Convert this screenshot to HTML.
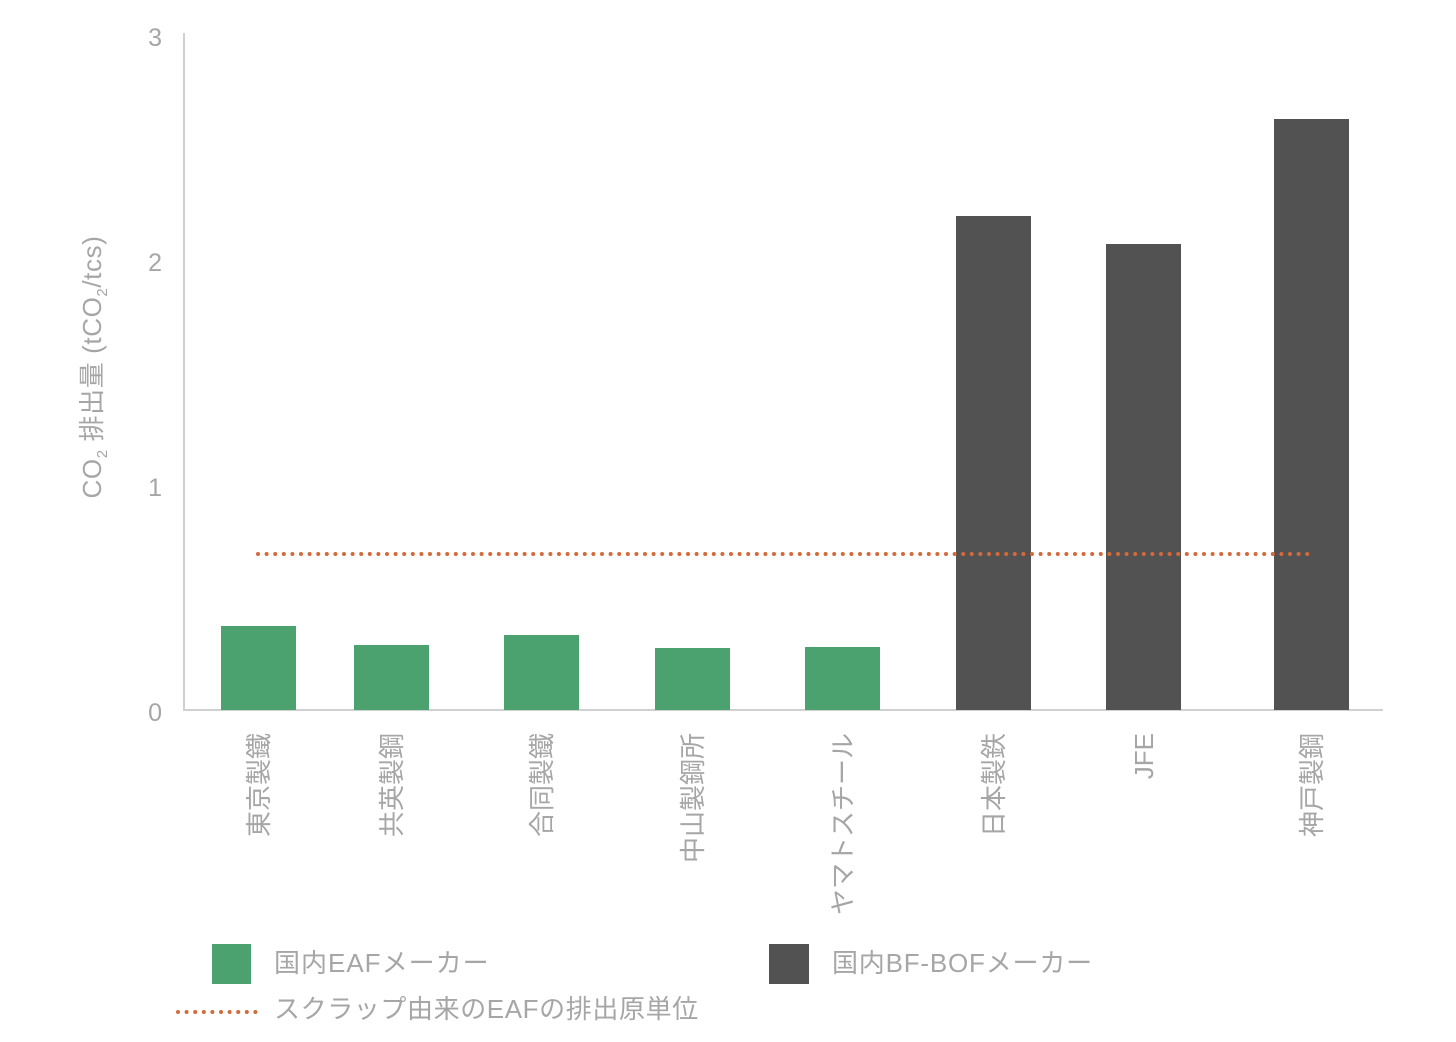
<!DOCTYPE html>
<html><head><meta charset="utf-8"><style>
html,body{margin:0;padding:0;background:#fff;}
svg{display:block;font-family:"Liberation Sans","Noto Sans CJK JP",sans-serif;}
</style></head><body>
<svg width="1456" height="1042" viewBox="0 0 1456 1042" xmlns="http://www.w3.org/2000/svg">
<g fill="#a6a6a6" font-size="25" text-anchor="end">
<text x="162" y="46">3</text>
<text x="162" y="271">2</text>
<text x="162" y="496">1</text>
<text x="162" y="721">0</text>
</g>
<line x1="184" y1="33" x2="184" y2="711" stroke="#d0d0d0" stroke-width="2"/>
<line x1="184" y1="710" x2="1383" y2="710" stroke="#d0d0d0" stroke-width="2"/>
<text transform="translate(101,367) rotate(-90)" fill="#a6a6a6" font-size="26" letter-spacing="0.6" text-anchor="middle">CO<tspan font-size="15" dy="6">2</tspan><tspan dy="-6"> 排出量 (tCO</tspan><tspan font-size="15" dy="6">2</tspan><tspan dy="-6">/tcs)</tspan></text>
<g fill="#4ba26f">
<rect x="221" y="626" width="75" height="84"/>
<rect x="354" y="645" width="75" height="65"/>
<rect x="504" y="635" width="75" height="75"/>
<rect x="655" y="648" width="75" height="62"/>
<rect x="805" y="647" width="75" height="63"/>
</g>
<g fill="#525252">
<rect x="956" y="216" width="75" height="494"/>
<rect x="1106" y="244" width="75" height="466"/>
<rect x="1274" y="119" width="75" height="591"/>
</g>
<line x1="258" y1="554" x2="1312" y2="554" stroke="#d4693a" stroke-width="4" stroke-linecap="round" stroke-dasharray="0 8.6"/>
<g fill="#a6a6a6" font-size="26" text-anchor="end">
<text transform="translate(268,733) rotate(-90)">東京製鐵</text>
<text transform="translate(401,733) rotate(-90)">共英製鋼</text>
<text transform="translate(551,733) rotate(-90)">合同製鐵</text>
<text transform="translate(702,733) rotate(-90)">中山製鋼所</text>
<text transform="translate(852,733) rotate(-90)">ヤマトスチール</text>
<text transform="translate(1003,733) rotate(-90)">日本製鉄</text>
<text transform="translate(1153,733) rotate(-90)">JFE</text>
<text transform="translate(1321,733) rotate(-90)">神戸製鋼</text>
</g>
<rect x="212" y="944" width="39" height="40" fill="#4ba26f"/>
<text x="274" y="972" fill="#a6a6a6" font-size="26" letter-spacing="1">国内EAFメーカー</text>
<rect x="769" y="944" width="40" height="40" fill="#525252"/>
<text x="832" y="972" fill="#a6a6a6" font-size="26" letter-spacing="0.8">国内BF-BOFメーカー</text>
<line x1="178" y1="1012" x2="256" y2="1012" stroke="#d4693a" stroke-width="4" stroke-linecap="round" stroke-dasharray="0 8.6"/>
<text x="274" y="1018" fill="#a6a6a6" font-size="26" letter-spacing="0.6">スクラップ由来のEAFの排出原単位</text>
</svg>
</body></html>
